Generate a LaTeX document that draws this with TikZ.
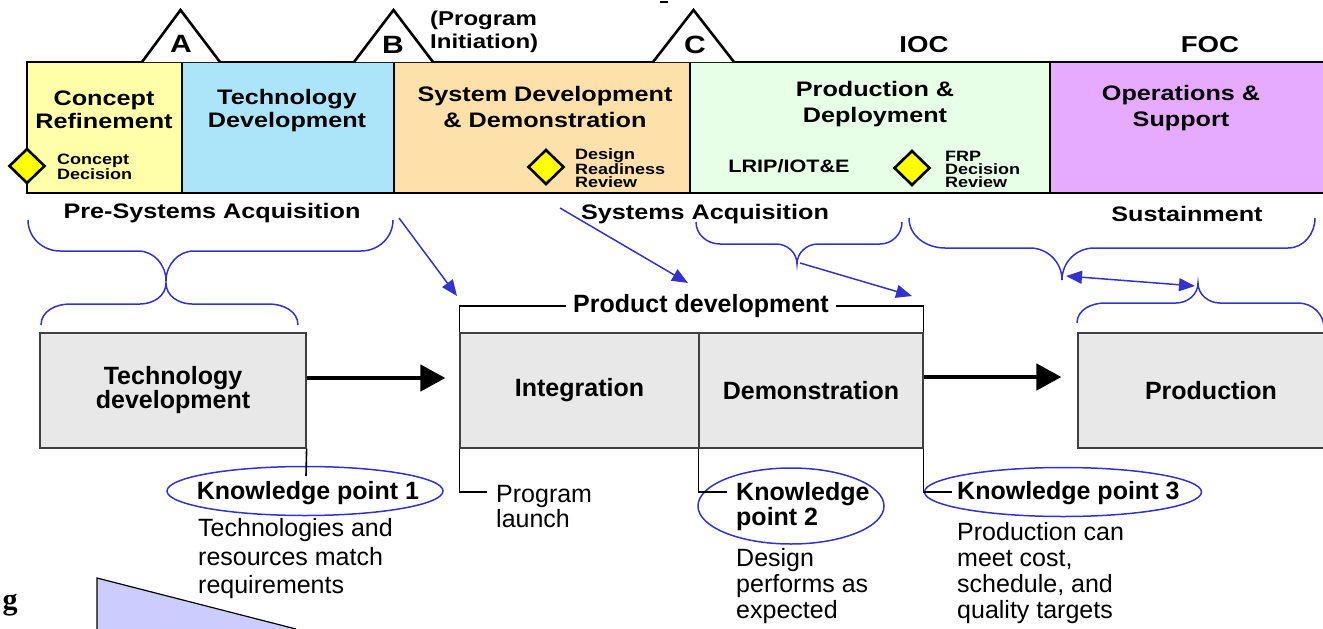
\documentclass[tikz,border=0pt]{standalone}
\usepackage{fontspec}
\setmainfont{Liberation Sans}
\newfontfamily\bandfont{Liberation Sans}[FakeStretch=1.2]
\newfontfamily\oldserif{Liberation Serif}
\usetikzlibrary{arrows.meta, shapes.geometric}

\definecolor{crYellow}{RGB}{255,255,170}
\definecolor{tdBlue}{RGB}{172,228,250}
\definecolor{sdOrange}{RGB}{253,224,170}
\definecolor{pdGreen}{RGB}{230,255,230}
\definecolor{osPurple}{RGB}{230,170,255}
\definecolor{dmYellow}{RGB}{255,255,0}
\definecolor{kpBlue}{RGB}{51,51,204}
\definecolor{boxGray}{RGB}{232,232,232}
\definecolor{triBlue}{RGB}{204,204,255}

\begin{document}
\begin{tikzpicture}[x=1pt, y=-1pt,
    phase/.style={
        draw,
        line width=1.2pt,
        minimum height=131pt,
        inner sep=0pt
    },
    phaselabel/.style={
        align=center,
        inner sep=0pt,
        font=\bandfont\bfseries\fontsize{21}{#1}\selectfont
    },
    phaselabel/.default=23,
    gate/.style={draw, line width=2.6pt, fill=white},
    gatelabel/.style={inner sep=0pt, font=\bandfont\bfseries\fontsize{#1}{#1}\selectfont},
    gatelabel/.default=25,
    decision/.style={
        diamond,
        draw,
        line width=2.6pt,
        fill=dmYellow,
        minimum width=36pt,
        minimum height=35pt,
        inner sep=0pt
    },
    small/.style={
        anchor=west,
        align=left,
        inner sep=0pt,
        font=\bandfont\bfseries\fontsize{15}{13}\selectfont
    },
    stage/.style={
        draw=black!75,
        line width=1.2pt,
        fill=boxGray,
        minimum height=115pt,
        inner sep=0pt,
        align=center,
        font=\bfseries\fontsize{25}{24}\selectfont
    },
    curly/.style={kpBlue, line width=1.5pt},
    link/.style={kpBlue, line width=1.5pt, -{Triangle[length=16pt,width=13pt]}},
    flow/.style={line width=4.5pt, -{Triangle[length=25pt,width=26pt]}},
    tick/.style={line width=1.6pt},
    kpoint/.style={ellipse, draw=kpBlue, line width=1.5pt, inner sep=0pt},
    kptext/.style={inner sep=0pt, align=left, font=\bfseries\fontsize{25}{25}\selectfont},
    desc/.style={anchor=west, align=left, inner sep=0pt, font=\fontsize{25}{#1}\selectfont},
    desc/.default=26
]

\useasboundingbox (0,0) rectangle (1323,629);

%%%%%%%%%%%%%%%%%%%%%%%%
% Phase band
%%%%%%%%%%%%%%%%%%%%%%%%

% --- Boxes ---
\node[phase, fill=crYellow, minimum width=155pt] (cr) at (104.5,127.5) {};
\node[phase, fill=tdBlue, minimum width=212pt] (td) at (288,127.5) {};
\node[phase, fill=sdOrange, minimum width=296pt] (sdd) at (542,127.5) {};
\node[phase, fill=pdGreen, minimum width=360pt] (pd) at (870,127.5) {};
\node[phase, fill=osPurple, minimum width=280pt] (os) at (1190,127.5) {};

% --- Milestones ---
\draw[gate] (142,62) -- (180.5,10) -- (220,62);
\draw[gate] (354,62) -- (393.5,10) -- (433,62);
\draw[gate] (653,62) -- (693.5,10) -- (734,62);
\node[gatelabel] (msA) at (181,44) {A};
\node[gatelabel] (msB) at (393,45) {B};
\node[gatelabel] (msC) at (695,45) {C};
\node[anchor=west, align=left, inner sep=0pt,
      font=\bandfont\bfseries\fontsize{20}{23}\selectfont] (pinit) at (430,32) {(Program\\Initiation)};
\node[gatelabel=23] (ioc) at (924,45) {IOC};
\node[gatelabel=23] (foc) at (1210,45) {FOC};
\draw[line width=1.5pt] (660,2) -- (668,2);

% --- Phase names ---
\node[phaselabel] (crl) at (104,110) {Concept\\Refinement};
\node[phaselabel] (tdl) at (287,110.5) {Technology\\Development};
\node[phaselabel=26.5] (sddl) at (545,107) {System Development\\\& Demonstration};
\node[phaselabel=26.5] (pdl) at (875,104) {Production \&\\Deployment};
\node[phaselabel=26.5] (osl) at (1181,108) {Operations \&\\Support};

% --- Decision points ---
\node[decision] (cd) at (27,166) {};
\node[small] (cdl) at (57,167) {Concept\\Decision};
\node[decision] (drr) at (546,167) {};
\node[small] (drrl) at (575,168) {Design\\Readiness\\Review};
\node[decision] (frp) at (912,168) {};
\node[small] (frpl) at (945,169) {FRP\\Decision\\Review};
\node[inner sep=0pt, font=\bandfont\bfseries\fontsize{18}{18}\selectfont] (lrip) at (789,166) {LRIP/IOT\&E};

% --- Acquisition periods ---
\node[phaselabel] (psa) at (212,213) {Pre-Systems Acquisition};
\node[phaselabel] (sa) at (705,214) {Systems Acquisition};
\node[phaselabel] (sus) at (1187,214) {Sustainment};

%%%%%%%%%%%%%%%%%%%%%%%%
% Braces
%%%%%%%%%%%%%%%%%%%%%%%%

\draw[curly] (28,220) to[out=-90,in=180] (60,251) -- (138,251)
    to[out=0,in=90] (166,281) to[out=90,in=180] (194,251) -- (361,251)
    to[out=0,in=-90] (393,220);
\draw[curly] (41,325) to[out=90,in=180] (70,304) -- (140,304)
    to[out=0,in=-90] (166,283) to[out=-90,in=180] (192,304) -- (269,304)
    to[out=0,in=90] (298,325);
\draw[curly] (696,222) to[out=-90,in=180] (720,244) -- (776,244)
    to[out=0,in=90] (797,264) to[out=90,in=180] (818,244) -- (880,244)
    to[out=0,in=-90] (902,222);
\draw[curly] (909,218) to[out=-90,in=180] (945,248) -- (1030,248)
    to[out=0,in=90] (1062,280) to[out=90,in=180] (1094,248) -- (1288,248)
    to[out=0,in=-90] (1315,218);
\draw[curly] (1077,323) to[out=90,in=180] (1105,303) -- (1176,303)
    to[out=0,in=-90] (1198,283) to[out=-90,in=180] (1220,303) -- (1298,303)
    to[out=0,in=90] (1324,328);

% --- Pointers ---
\coordinate (psaEnd) at (399,218);
\coordinate (pdLeft) at (457,296);
\coordinate (saStart) at (560,208);
\coordinate (pdTop) at (688,283);
\coordinate (saTip) at (800,263);
\coordinate (pdRight) at (912,296);
\coordinate (susTip) at (1066,276);
\coordinate (prodTip) at (1195,286);

\draw[link] (psaEnd) -- (pdLeft);
\draw[link] (saStart) -- (pdTop);
\draw[link] (saTip) -- (pdRight);
\draw[kpBlue, line width=1.5pt, {Triangle[length=16pt,width=13pt]}-{Triangle[length=16pt,width=13pt]}] (susTip) -- (prodTip);

%%%%%%%%%%%%%%%%%%%%%%%%
% Knowledge-based process
%%%%%%%%%%%%%%%%%%%%%%%%

% --- Stages ---
\node[stage, minimum width=266pt] (tdev) at (173,390.5) {Technology\\development};
\node[stage, minimum width=239pt] (integ) at (579.5,390.5) {Integration};
\node[stage, minimum width=224pt] (demo) at (811,390.5) {Demonstration};
\node[stage, minimum width=252pt] (prod) at (1204,390.5) {\hspace*{14pt}Production};

\draw[flow, shorten >=14pt] ([yshift=12.5pt]tdev.east) -- ([yshift=12.5pt]integ.west);
\draw[flow, shorten >=16pt] ([yshift=13.5pt]demo.east) -- ([yshift=13.5pt]prod.west);

% --- Product development ---
\node[inner xsep=7pt, inner ysep=0pt, font=\bfseries\fontsize{25}{25}\selectfont] (pdev) at (701,306) {Product development};
\draw[tick] (integ.north west) |- (pdev.west);
\draw[tick] (pdev.east) -| (demo.north east);

% --- Knowledge points ---
\node[kpoint, minimum width=276pt, minimum height=49pt] (kp1) at (305,491) {};
\node[kpoint, minimum width=186pt, minimum height=76pt] (kp2) at (791,506) {};
\node[kpoint, minimum width=277pt, minimum height=49pt] (kp3) at (1063,492) {};

\node[kptext] (kp1t) at (308,493) {Knowledge point 1};
\node[kptext, anchor=west] (kp2t) at (736,507) {Knowledge\\point 2};
\node[kptext, anchor=west] (kp3t) at (957,493) {Knowledge point 3};

\coordinate (kp1Top) at (306,476);
\coordinate (launchEnd) at (487,492);
\coordinate (kp2End) at (727,492);
\coordinate (kp3End) at (952,492);

\draw[tick] (tdev.south east) -- (kp1Top);
\draw[tick] (integ.south west) |- (launchEnd);
\draw[tick] (demo.south west) |- (kp2End);
\draw[tick] (demo.south east) |- (kp3End);

% --- Notes ---
\node[desc=28.5] (kp1d) at (198,559) {Technologies and\\resources match\\requirements};
\node[desc=25] (launch) at (496,507) {Program\\launch};
\node[desc] (kp2d) at (736,586) {Design\\performs as\\expected};
\node[desc] (kp3d) at (957,573) {Production can\\meet cost,\\schedule, and\\quality targets};

%%%%%%%%%%%%%%%%%%%%%%%%
% Cut-off leftovers
%%%%%%%%%%%%%%%%%%%%%%%%

\fill[triBlue] (97,578) -- (296,629) -- (97,629) -- cycle;
\draw[line width=1.2pt] (97,629) -- (97,578) -- (296,629);
\node[inner sep=0pt, font=\oldserif\bfseries\fontsize{30}{30}\selectfont] (gg) at (10,605) {g};

\end{tikzpicture}
\end{document}
